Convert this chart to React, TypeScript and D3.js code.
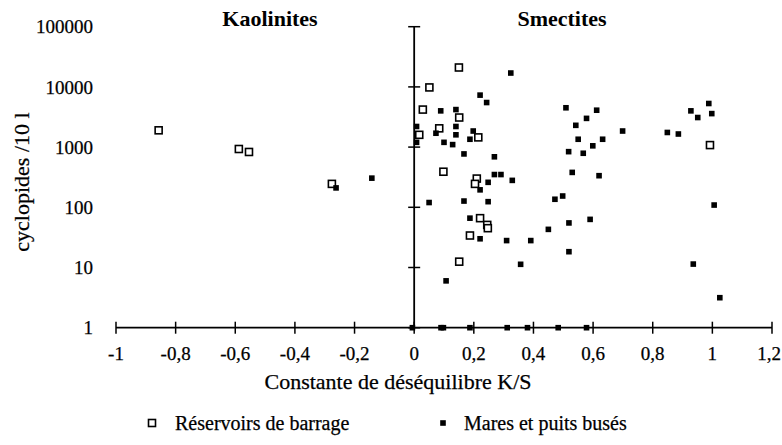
import React from 'react';
import * as d3 from 'd3';

// Réservoirs de barrage (open squares)
const reservoirsK = [-0.857, -0.588, -0.554, -0.276, 0.150, 0.051, 0.029, 0.151, 0.084, 0.017, 0.215, 0.992, 0.098, 0.210, 0.204, 0.221, 0.245, 0.247, 0.187, 0.151];
const reservoirsC = [1900, 930, 830, 245, 21000, 9800, 4200, 3100, 2050, 1600, 1450, 1080, 390, 300, 245, 66, 51, 45, 34, 12.5];

// Mares et puits busés (filled squares)
const maresK = [-0.262, -0.142,
  0.324, 0.221, 0.243, 0.089, 0.140, 0.509, 0.612, 0.578, 0.928, 0.988,
  0.951, 0.998, 0.008, 0.140, 0.140, 0.073, 0.198, 0.187, 0.542, 0.008,
  0.100, 0.129, 0.550, 0.632, 0.599, 0.699, 0.849, 0.886, 0.167, 0.269,
  0.518, 0.567, 0.269, 0.291, 0.329, 0.530, 0.620, 0.248, 0.221, 0.050,
  0.167, 0.248, 0.472, 0.498, 1.006, 0.187, 0.519, 0.590, 0.450, 0.221,
  0.310, 0.391, 0.357, 0.519, 0.936, 0.107, 1.025,
  -0.006, 0.090, 0.098, 0.187, 0.312, 0.380, 0.483, 0.578];
const maresC = [210, 305,
  17000, 7300, 5500, 4000, 4200, 4500, 4100, 3000, 4000, 5300,
  3100, 3600, 2200, 2200, 1600, 1700, 1850, 1350, 2300, 1200,
  1200, 1100, 1350, 1350, 1050, 1850, 1750, 1650, 770, 690,
  840, 790, 350, 350, 280, 380, 335, 260, 195, 120,
  127, 124, 136, 154, 109, 66, 55, 63, 43, 30,
  28, 28, 11.3, 18.3, 11.4, 6, 3.15,
  1, 1, 1, 1, 1, 1, 1, 1];

const xTicks = [-1, -0.8, -0.6, -0.4, -0.2, 0, 0.2, 0.4, 0.6, 0.8, 1, 1.2];
const yTicks = [1, 10, 100, 1000, 10000, 100000];
const regionLabels = ['Kaolinites', 'Smectites'];
const seriesNames = ['Réservoirs de barrage', 'Mares et puits busés'];
const xTitle = 'Constante de déséquilibre K/S';
const yTitle = 'cyclopides /10 l';

const W = 782, H = 445;
const FONT = '"Liberation Serif", "Times New Roman", serif';

export default function App() {
  const x = d3.scaleLinear().domain([-1, 1.2]).range([116, 772]);
  const y = d3.scaleLog().domain([1, 100000]).range([327.7, 26.7]);
  const x0 = x(0);
  const yBase = y(1);
  const fmt = (v: number) => (Math.round(v * 10) / 10).toString().replace('.', ',');

  const openSize = 7;
  const fillSize = 5.6;
  const txt = { stroke: '#000', strokeWidth: 0.25 };

  return (
    <svg width={W} height={H} style={{ position: 'absolute', left: 0, top: 0, background: '#fff' }}
      fontFamily={FONT}>
      <rect width={W} height={H} fill="#fff" />
      {/* region titles */}
      <text x={270} y={26} textAnchor="middle" fontWeight="bold" fontSize={22}>{regionLabels[0]}</text>
      <text x={562} y={26} textAnchor="middle" fontWeight="bold" fontSize={22}>{regionLabels[1]}</text>

      {/* y axis */}
      <line x1={x0} x2={x0} y1={y(100000)} y2={yBase} stroke="#000" strokeWidth={1.8} />
      {yTicks.map(t => (
        <line key={'yt' + t} x1={x0 - 6} x2={x0 + 6} y1={y(t)} y2={y(t)} stroke="#000" strokeWidth={1.5} />
      ))}
      {yTicks.map(t => (
        <text key={'yl' + t} x={93} y={y(t)} dy="0.35em" textAnchor="end" fontSize={19} {...txt}>{t}</text>
      ))}

      {/* x axis */}
      <line x1={x(-1)} x2={x(1.2)} y1={yBase} y2={yBase} stroke="#000" strokeWidth={1.8} />
      {xTicks.map(t => (
        <line key={'xt' + t} x1={x(t)} x2={x(t)} y1={yBase - 6} y2={yBase + 6} stroke="#000" strokeWidth={1.5} />
      ))}
      {xTicks.map(t => (
        <text key={'xl' + t} x={Math.min(x(t), W - 13)} y={353} dy="0.35em" textAnchor="middle" fontSize={19} {...txt}>{fmt(t)}</text>
      ))}

      {/* titles */}
      <text x={398} y={381} dy="0.35em" textAnchor="middle" fontSize={22} {...txt}>{xTitle}</text>
      <text transform={`translate(21,182) rotate(-90)`} dy="0.35em" textAnchor="middle" fontSize={22} {...txt}>{yTitle}</text>

      {/* open squares */}
      {reservoirsK.map((k, i) => (
        <rect key={'r' + i} x={x(k) - openSize / 2} y={y(reservoirsC[i]) - openSize / 2}
          width={openSize} height={openSize} fill="#fff" stroke="#000" strokeWidth={1.6} />
      ))}
      {/* filled squares */}
      {maresK.map((k, i) => (
        <rect key={'m' + i} x={x(k) - fillSize / 2} y={y(maresC[i]) - fillSize / 2}
          width={fillSize} height={fillSize} fill="#000" />
      ))}

      {/* legend */}
      <rect x={152 - 3.5} y={423 - 3.5} width={7} height={7} fill="#fff" stroke="#000" strokeWidth={1.6} />
      <text x={175} y={423} dy="0.35em" fontSize={20} {...txt}>{seriesNames[0]}</text>
      <rect x={443 - 2.8} y={423 - 2.8} width={5.6} height={5.6} fill="#000" />
      <text x={464} y={423} dy="0.35em" fontSize={20} {...txt}>{seriesNames[1]}</text>
    </svg>
  );
}
